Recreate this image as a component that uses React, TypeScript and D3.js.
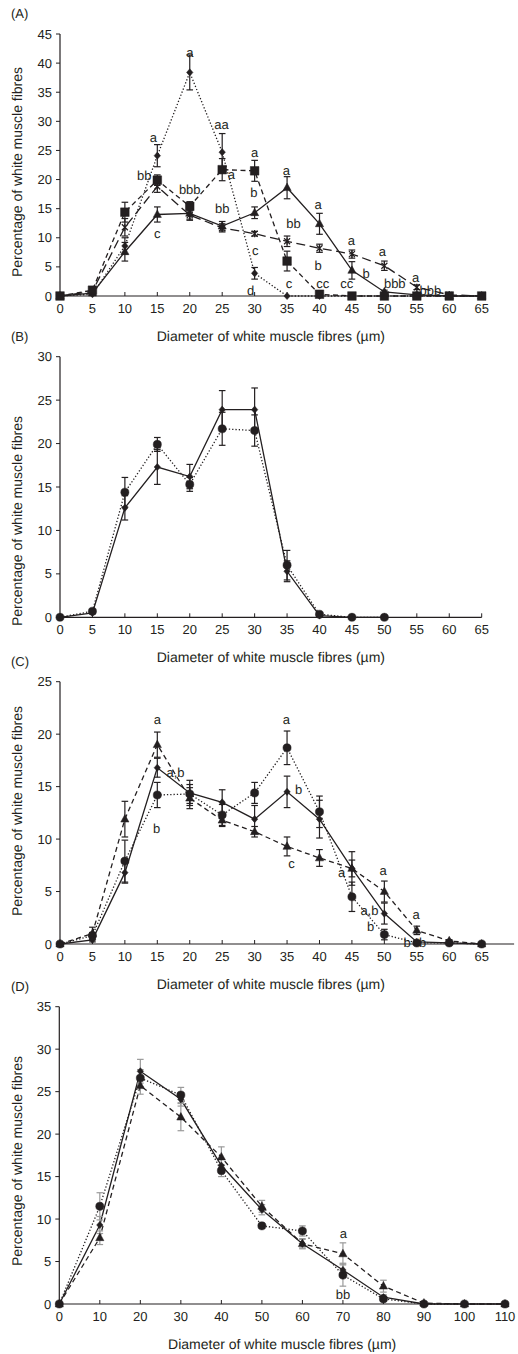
import React from "react";
import * as d3 from "d3";

// ---- data ----
const dia5 = [0, 5, 10, 15, 20, 25, 30, 35, 40, 45, 50, 55, 60, 65];
const dia5B = [0, 5, 10, 15, 20, 25, 30, 35, 40, 45, 50];
const dia10 = [0, 10, 20, 30, 40, 50, 60, 70, 80, 90, 100, 110];

// panel A
const diamA = [0, 0.3, 8.6, 24.1, 38.4, 24.7, 3.9, 0, 0, 0, 0, 0, 0, 0];
const diamASe = [0, 0.2, 1.4, 1.9, 3.0, 3.2, 1.0, 0, 0, 0, 0, 0, 0, 0];
const squareA = [0, 1.0, 14.4, 19.9, 15.4, 21.7, 21.5, 6.0, 0.3, 0, 0, 0, 0, 0];
const squareASe = [0, 0.3, 1.7, 0.9, 0.8, 1.9, 1.8, 1.7, 0.1, 0, 0, 0, 0, 0];
const triA = [0, 0.5, 7.6, 14.0, 14.2, 12.0, 14.3, 18.6, 12.4, 4.4, 0.7, 0.2, 0, 0];
const triASe = [0, 0.3, 1.6, 1.3, 1.0, 0.8, 1.0, 1.9, 1.8, 1.5, 0.3, 0.1, 0, 0];
const starA = [0, 0.8, 11.8, 18.8, 13.9, 11.7, 10.7, 9.4, 8.2, 7.2, 5.2, 1.5, 0.2, 0];
const starASe = [0, 0.3, 1.5, 1.0, 0.9, 0.7, 0.4, 0.9, 0.7, 0.7, 0.8, 0.4, 0.1, 0];
const notesA = [
  { x: 20, y: 41.8, t: "a" }, { x: 14.4, y: 27.3, t: "a" }, { x: 13, y: 20.7, t: "bb" },
  { x: 15, y: 10.8, t: "c" }, { x: 20, y: 18.3, t: "bbb" }, { x: 24.9, y: 29.4, t: "aa" },
  { x: 26.4, y: 20.8, t: "a" }, { x: 25, y: 15, t: "bb" }, { x: 30, y: 24.7, t: "a" },
  { x: 29.9, y: 17.8, t: "b" }, { x: 30.1, y: 7.9, t: "c" }, { x: 29.4, y: 0.9, t: "d" },
  { x: 34.9, y: 21.6, t: "a" }, { x: 36, y: 12.4, t: "bb" }, { x: 35.3, y: 2.2, t: "c" },
  { x: 39.8, y: 15.8, t: "a" }, { x: 39.8, y: 5.2, t: "b" }, { x: 40.5, y: 2.2, t: "cc" },
  { x: 44.9, y: 9.5, t: "a" }, { x: 44.2, y: 2.2, t: "cc" }, { x: 47.2, y: 3.8, t: "b" },
  { x: 49.7, y: 7.7, t: "a" }, { x: 51.6, y: 2.2, t: "bbb" }, { x: 54.8, y: 3.1, t: "a" },
  { x: 57.1, y: 0.9, t: "bbb" },
];

// panel B
const diamB = [0, 0.5, 12.6, 17.3, 16.2, 23.9, 23.9, 5.3, 0.2, 0, 0];
const diamBSe = [0, 0.1, 1.4, 2.0, 1.4, 2.2, 2.5, 1.2, 0.1, 0, 0];
const circB = [0, 0.7, 14.4, 19.9, 15.3, 21.7, 21.5, 6.0, 0.35, 0, 0];
const circBSe = [0, 0.2, 1.7, 0.8, 0.8, 1.9, 1.8, 1.7, 0.1, 0, 0];

// panel C
const triC = [0, 1.0, 11.9, 19.0, 13.9, 11.8, 10.7, 9.3, 8.2, 7.2, 5.0, 1.3, 0.3, 0];
const triCSe = [0, 0.6, 1.7, 1.2, 1.0, 0.6, 0.5, 0.9, 0.8, 0.8, 1.0, 0.4, 0.1, 0];
const circC = [0, 0.8, 7.9, 14.2, 14.3, 12.3, 14.4, 18.7, 12.6, 4.5, 0.9, 0.1, 0.1, 0];
const circCSe = [0, 0.3, 2.0, 1.2, 0.9, 1.0, 1.0, 1.6, 1.5, 1.4, 0.5, 0.1, 0, 0];
const diamC = [0, 0.4, 6.8, 16.8, 14.4, 13.5, 11.9, 14.5, 11.9, 7.2, 2.9, 0.2, 0.1, 0];
const diamCSe = [0, 0.2, 1.0, 0.9, 1.2, 1.2, 1.3, 1.5, 1.8, 1.6, 1.0, 0.1, 0, 0];
const notesC = [
  { x: 15, y: 21.4, t: "a" }, { x: 17.8, y: 16.3, t: "a,b" }, { x: 14.9, y: 11, t: "b" },
  { x: 34.9, y: 21.4, t: "a" }, { x: 36.8, y: 14.7, t: "b" }, { x: 35.7, y: 7.7, t: "c" },
  { x: 43.4, y: 6.8, t: "a" }, { x: 49.8, y: 7.05, t: "a" }, { x: 47.7, y: 3.2, t: "a,b" },
  { x: 47.9, y: 1.7, t: "b" }, { x: 54.9, y: 2.8, t: "a" }, { x: 53.5, y: 0.1, t: "b" },
  { x: 55.9, y: 0.1, t: "b" },
];

// panel D
const diamD = [0, 9.3, 27.4, 24.1, 16.3, 11.1, 7.1, 4.0, 0.8, 0, 0, 0];
const diamDSe = [0, 1.0, 1.4, 0.8, 0.8, 0.6, 0.5, 0.8, 0.3, 0, 0, 0];
const circD = [0, 11.5, 26.6, 24.6, 15.7, 9.2, 8.6, 3.4, 0.6, 0, 0, 0];
const circDSe = [0, 1.6, 1.0, 0.9, 0.7, 0.3, 0.6, 1.3, 0.3, 0, 0, 0];
const triD = [0, 7.8, 25.7, 22.0, 17.3, 11.5, 7.1, 5.9, 2.1, 0.1, 0, 0];
const triDSe = [0, 0.8, 1.0, 1.6, 1.2, 0.7, 0.6, 1.3, 0.7, 0, 0, 0];
const notesD = [{ x: 70.1, y: 8.3, t: "a" }, { x: 70, y: 1.06, t: "bb" }];

const xTitle = "Diameter of white muscle fibres (\u00b5m)";
const yTitle = "Percentage of white muscle fibres";
const FONT = "'Liberation Sans', Arial, sans-serif";
const INK = "#231f20";

const DASH = { solid: null, dot: "1.3,2", dash: "5,3.5", long: "9,4.5" };

function markerPath(kind) {
  if (kind === "square") return "M-4.3,-4.3h8.6v8.6h-8.6z";
  if (kind === "diamond") return "M0,-3.6L3.2,0L0,3.6L-3.2,0Z";
  if (kind === "triangle") return "M0,-4.6L4.1,2.9L-4.1,2.9Z";
  if (kind === "circle") return d3.symbol(d3.symbolCircle, 52)();
  return "M-3,-3L3,3M3,-3L-3,3M0,-3.6V3.6";
}

function Panel({ label, top, bottom, left, right, xMax, xTicks, yMax, series, notes, yTitleY, errColor }) {
  const x = d3.scaleLinear().domain([0, xMax]).range([left, right]);
  const y = d3.scaleLinear().domain([0, yMax]).range([bottom, top]);
  const yTicks = d3.range(0, yMax + 0.1, 5);
  const line = d3.line().x((d) => x(d[0])).y((d) => y(d[1]));
  const lastX = x(xTicks[xTicks.length - 1]);
  return (
    <g>
      <text x={11} y={top - 16} fontSize={13} fill={INK}>{label}</text>
      {series.map((s, i) => (
        <path key={"l" + i} d={line(s.x.map((v, j) => [v, s.y[j]]))} fill="none" stroke={INK}
          strokeWidth={1.3} strokeDasharray={DASH[s.dash] || undefined} />
      ))}
      {series.map((s, i) => s.x.map((v, j) => {
        const se = s.se[j];
        if (!se || se < 0.05) return null;
        const cx = x(v);
        return (
          <g key={"e" + i + "-" + j} stroke={errColor} strokeWidth={1.2}>
            <line x1={cx} x2={cx} y1={y(s.y[j] - se)} y2={y(s.y[j] + se)} />
            <line x1={cx - 3.3} x2={cx + 3.3} y1={y(s.y[j] + se)} y2={y(s.y[j] + se)} />
            <line x1={cx - 3.3} x2={cx + 3.3} y1={y(s.y[j] - se)} y2={y(s.y[j] - se)} />
          </g>
        );
      }))}
      {series.map((s, i) => s.x.map((v, j) => (
        <path key={"m" + i + "-" + j} d={markerPath(s.marker)} transform={`translate(${x(v)},${y(s.y[j])})`}
          fill={s.marker === "star" ? "none" : INK} stroke={INK} strokeWidth={s.marker === "star" ? 1.2 : 0.5} />
      )))}
      {/* axes */}
      <line x1={left} x2={left} y1={top} y2={bottom} stroke={INK} strokeWidth={1.2} />
      <line x1={left} x2={right} y1={bottom} y2={bottom} stroke={INK} strokeWidth={1.2} />
      {yTicks.map((t) => (
        <g key={"yt" + t}>
          <line x1={left - 4} x2={left} y1={y(t)} y2={y(t)} stroke={INK} strokeWidth={1} />
          <text x={left - 8} y={y(t) + 4.6} textAnchor="end" fontSize={13} fill={INK}>{t}</text>
        </g>
      ))}
      {xTicks.map((t) => (
        <g key={"xt" + t}>
          <line x1={x(t)} x2={x(t)} y1={bottom - 4} y2={bottom} stroke={INK} strokeWidth={1} />
          <text x={x(t)} y={bottom + 17} textAnchor="middle" fontSize={13} fill={INK}>{t}</text>
        </g>
      ))}
      <text x={(left + lastX) / 2} y={bottom + 45} textAnchor="middle" fontSize={14} fill={INK}>{xTitle}</text>
      <text transform={`translate(22,${yTitleY}) rotate(-90)`} textAnchor="middle" fontSize={14} fill={INK}>{yTitle}</text>
      {notes.map((n, i) => (
        <text key={"n" + i} x={x(n.x)} y={y(n.y) + 4.5} textAnchor="middle" fontSize={13} fill={INK}>{n.t}</text>
      ))}
    </g>
  );
}

export default function App() {
  const seriesA = [
    { x: dia5, y: diamA, se: diamASe, dash: "dot", marker: "diamond" },
    { x: dia5, y: starA, se: starASe, dash: "long", marker: "star" },
    { x: dia5, y: triA, se: triASe, dash: "solid", marker: "triangle" },
    { x: dia5, y: squareA, se: squareASe, dash: "dash", marker: "square" },
  ];
  const seriesB = [
    { x: dia5B, y: diamB, se: diamBSe, dash: "solid", marker: "diamond" },
    { x: dia5B, y: circB, se: circBSe, dash: "dot", marker: "circle" },
  ];
  const seriesC = [
    { x: dia5, y: triC, se: triCSe, dash: "dash", marker: "triangle" },
    { x: dia5, y: circC, se: circCSe, dash: "dot", marker: "circle" },
    { x: dia5, y: diamC, se: diamCSe, dash: "solid", marker: "diamond" },
  ];
  const seriesD = [
    { x: dia10, y: triD, se: triDSe, dash: "dash", marker: "triangle" },
    { x: dia10, y: circD, se: circDSe, dash: "dot", marker: "circle" },
    { x: dia10, y: diamD, se: diamDSe, dash: "solid", marker: "diamond" },
  ];
  return (
    <svg width={518} height={1354} style={{ position: "absolute", left: 0, top: 0, background: "#fff" }}
      fontFamily={FONT} textRendering="geometricPrecision">
      <Panel label="(A)" top={34} bottom={296} left={60} right={481.7} xMax={65} xTicks={dia5} yMax={45}
        series={seriesA} notes={notesA} yTitleY={172} errColor={INK} />
      <Panel label="(B)" top={356.7} bottom={617.3} left={60} right={481.7} xMax={65} xTicks={dia5} yMax={30}
        series={seriesB} notes={[]} yTitleY={521} errColor={INK} />
      <Panel label="(C)" top={681.7} bottom={944} left={60} right={514.1} xMax={70} xTicks={dia5} yMax={25}
        series={seriesC} notes={notesC} yTitleY={811} errColor={INK} />
      <Panel label="(D)" top={1006.7} bottom={1304} left={59.3} right={505} xMax={110} xTicks={dia10} yMax={35}
        series={seriesD} notes={notesD} yTitleY={1161} errColor="#9a9a9a" />
    </svg>
  );
}
